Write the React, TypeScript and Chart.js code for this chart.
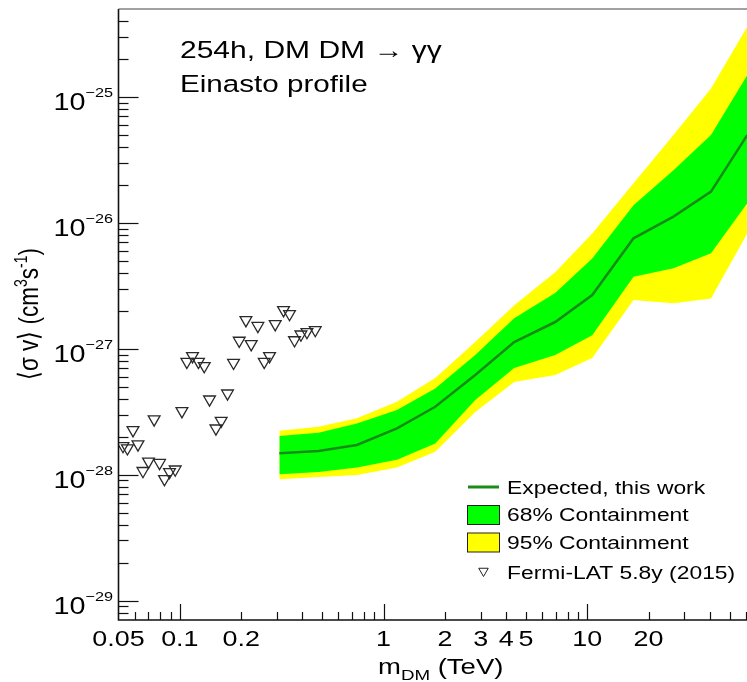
import React, { useEffect, useRef } from "react";
import { Chart, registerables } from "chart.js";

Chart.register(...registerables);

// ---------- data (TeV, cm^3 s^-1) ----------
const bandMass = [0.308, 0.48, 0.74, 1.164, 1.794, 2.82, 4.38, 6.96, 10.58, 16.87, 26.5, 40.5, 61.0];
const expectedLimit = [1.48e-28, 1.54e-28, 1.72e-28, 2.33e-28, 3.46e-28, 6.18e-28, 1.13e-27, 1.63e-27, 2.67e-27, 7.54e-27, 1.12e-26, 1.77e-26, 4.98e-26];
const band68Upper = [2.03e-28, 2.15e-28, 2.55e-28, 3.26e-28, 4.84e-28, 8.91e-28, 1.75e-27, 2.77e-27, 5.22e-27, 1.38e-26, 2.62e-26, 4.98e-26, 1.49e-25];
const band68Lower = [1.005e-28, 1.05e-28, 1.14e-28, 1.31e-28, 1.77e-28, 3.91e-28, 7.03e-28, 8.91e-28, 1.28e-27, 3.73e-27, 4.35e-27, 5.73e-27, 1.43e-26];
const band95Upper = [2.23e-28, 2.4e-28, 2.8e-28, 3.79e-28, 5.85e-28, 1.13e-27, 2.22e-27, 4.06e-27, 8.25e-27, 2.06e-26, 4.98e-26, 1.17e-25, 3.61e-25];
const band95Lower = [9.19e-29, 9.57e-29, 9.93e-29, 1.14e-28, 1.52e-28, 3.14e-28, 5.44e-28, 6.18e-28, 8.44e-28, 2.44e-27, 2.3e-27, 2.51e-27, 8.25e-27];

const fermiMass = [0.0526, 0.0553, 0.0589, 0.0623, 0.0659, 0.0702, 0.0748, 0.0795, 0.0841, 0.089, 0.0949, 0.1024, 0.1083, 0.1154, 0.1235, 0.1318, 0.1399, 0.1504, 0.1596, 0.1714, 0.1835, 0.1957, 0.2111, 0.2241, 0.2416, 0.2597, 0.2756, 0.2939, 0.3229, 0.3455, 0.3656, 0.393, 0.4207, 0.4622];
const fermiLimit = [1.69e-28, 1.62e-28, 2.26e-28, 1.74e-28, 1.07e-28, 1.27e-28, 2.75e-28, 1.24e-28, 9.23e-29, 1.05e-28, 1.1e-28, 3.2e-28, 7.88e-28, 8.75e-28, 7.88e-28, 7.29e-28, 3.96e-28, 2.33e-28, 2.68e-28, 4.42e-28, 7.74e-28, 1.16e-27, 1.69e-27, 1.09e-27, 1.52e-27, 7.88e-28, 8.75e-28, 1.57e-27, 2.03e-27, 1.89e-27, 1.17e-27, 1.3e-27, 1.36e-27, 1.41e-27];

// ---------- axes ----------
const xMin = 0.05;
const xMax = 70;
const yMin = 7e-30;
const yMax = 5e-25;
const xTickLabels = [0.05, 0.1, 0.2, 1, 2, 3, 4, 5, 10, 20];
const xDecades = [0.01, 0.1, 1, 10];
const yDecadeExponents = [-30, -29, -28, -27, -26, -25];
const yLabelExponents = [-29, -28, -27, -26, -25];
const minorSteps = [1, 2, 3, 4, 5, 6, 7, 8, 9];

const legendItems = ["Expected, this work", "68% Containment", "95% Containment", "Fermi-LAT 5.8y (2015)"];

const FONT = '"Liberation Sans", Arial, Helvetica, sans-serif';
const SX = 1.25;
const GREEN = "#00ff00";
const YELLOW = "#ffff00";
const LINE_GREEN = "rgb(24,140,24)";
const CANVAS_W = 770;
const CANVAS_H = 682;

type Seg = { t: string; size: number; dy?: number };

function drawRich(
  ctx: CanvasRenderingContext2D,
  segs: Seg[],
  x: number,
  y: number,
  align: "left" | "center" | "right",
  rotated = false
) {
  ctx.save();
  let total = 0;
  for (const s of segs) {
    ctx.font = `${s.size}px ${FONT}`;
    total += ctx.measureText(s.t).width;
  }
  ctx.translate(x, y);
  if (rotated) {
    ctx.rotate(-Math.PI / 2);
    ctx.scale(1, SX);
  } else {
    ctx.scale(SX, 1);
  }
  let cx = align === "left" ? 0 : align === "center" ? -total / 2 : -total;
  ctx.textAlign = "left";
  ctx.textBaseline = "alphabetic";
  ctx.fillStyle = "#000";
  for (const s of segs) {
    ctx.font = `${s.size}px ${FONT}`;
    ctx.fillText(s.t, cx, s.dy || 0);
    cx += ctx.measureText(s.t).width;
  }
  ctx.restore();
}

function downTriangle(ctx: CanvasRenderingContext2D, x: number, y: number, r: number) {
  ctx.beginPath();
  ctx.moveTo(x - r * 0.866, y - r * 0.5);
  ctx.lineTo(x + r * 0.866, y - r * 0.5);
  ctx.lineTo(x, y + r);
  ctx.closePath();
  ctx.stroke();
}

const framePlugin = {
  id: "rootFrame",
  afterDraw(chart: any) {
    const ctx: CanvasRenderingContext2D = chart.ctx;
    const xs = chart.scales.x;
    const ys = chart.scales.y;
    const { left, right, top, bottom } = chart.chartArea;
    ctx.save();

    // frame
    ctx.strokeStyle = "#111";
    ctx.lineWidth = 1.6;
    ctx.beginPath();
    ctx.moveTo(left, top);
    ctx.lineTo(left, bottom);
    ctx.lineTo(right, bottom);
    ctx.stroke();
    ctx.strokeStyle = "#444";
    ctx.lineWidth = 1.2;
    ctx.beginPath();
    ctx.moveTo(left, top);
    ctx.lineTo(right, top);
    ctx.stroke();

    // x ticks (inward)
    ctx.strokeStyle = "#111";
    ctx.lineWidth = 1.2;
    for (const d of xDecades) {
      for (const k of minorSteps) {
        const v = d * k;
        if (v <= xMin * 1.0001 || v > xMax) continue;
        const px = Math.round(xs.getPixelForValue(v)) + 0.5;
        const len = k === 1 ? 16 : 8;
        ctx.beginPath();
        ctx.moveTo(px, bottom);
        ctx.lineTo(px, bottom - len);
        ctx.stroke();
      }
    }
    // y ticks (inward)
    for (const e of yDecadeExponents) {
      for (const k of minorSteps) {
        const v = k * Math.pow(10, e);
        if (v <= yMin * 1.0001 || v > yMax) continue;
        const py = Math.round(ys.getPixelForValue(v)) + 0.5;
        const len = k === 1 ? 20 : 10;
        ctx.beginPath();
        ctx.moveTo(left, py);
        ctx.lineTo(left + len, py);
        ctx.stroke();
      }
    }

    // x tick labels
    for (const v of xTickLabels) {
      const px = xs.getPixelForValue(v);
      drawRich(ctx, [{ t: String(v), size: 21.5 }], px, 645.5, "center");
    }
    // y tick labels
    for (const e of yLabelExponents) {
      const py = ys.getPixelForValue(Math.pow(10, e));
      drawRich(
        ctx,
        [
          { t: "10", size: 23, dy: 13.5 },
          { t: "\u2212" + String(-e), size: 13, dy: 0 },
        ],
        113,
        py,
        "right"
      );
    }

    // axis titles
    drawRich(
      ctx,
      [
        { t: "m", size: 22 },
        { t: "DM", size: 15, dy: 6 },
        { t: " (TeV)", size: 22 },
      ],
      378,
      674,
      "left"
    );
    drawRich(
      ctx,
      [
        { t: "\u27E8\u03C3 v\u27E9 (cm", size: 22.5 },
        { t: "3", size: 14, dy: -9 },
        { t: "s", size: 22.5 },
        { t: "-1", size: 14, dy: -9 },
        { t: ")", size: 22.5 },
      ],
      38,
      314,
      "center",
      true
    );

    // annotations
    drawRich(ctx, [{ t: "254h, DM DM \u2192 \u03B3\u03B3", size: 24 }], 180, 58, "left");
    drawRich(ctx, [{ t: "Einasto profile", size: 23.7 }], 180, 92, "left");

    // legend
    const LF = 18.3;
    ctx.strokeStyle = LINE_GREEN;
    ctx.lineWidth = 3;
    ctx.beginPath();
    ctx.moveTo(468, 487);
    ctx.lineTo(499, 487);
    ctx.stroke();
    drawRich(ctx, [{ t: legendItems[0], size: LF }], 507, 493.5, "left");

    ctx.lineWidth = 1;
    ctx.strokeStyle = "#222";
    ctx.fillStyle = GREEN;
    ctx.fillRect(467.5, 505.5, 32, 19);
    ctx.strokeRect(467.5, 505.5, 32, 19);
    drawRich(ctx, [{ t: legendItems[1], size: LF }], 507, 521, "left");

    ctx.fillStyle = YELLOW;
    ctx.fillRect(467.5, 533, 32, 19);
    ctx.strokeRect(467.5, 533, 32, 19);
    drawRich(ctx, [{ t: legendItems[2], size: LF }], 507, 549, "left");

    ctx.strokeStyle = "#222";
    ctx.lineWidth = 1;
    downTriangle(ctx, 483.5, 571, 5.5);
    drawRich(ctx, [{ t: legendItems[3], size: LF }], 507, 578.5, "left");

    ctx.restore();
  },
};

function pts(xs: number[], ys: number[]) {
  return xs.map((x, i) => ({ x, y: ys[i] }));
}

export default function App() {
  const ref = useRef<HTMLCanvasElement | null>(null);

  useEffect(() => {
    if (!ref.current) return;
    const bandStyle = {
      borderWidth: 0,
      borderColor: "rgba(0,0,0,0)",
      pointRadius: 0,
      tension: 0,
    };
    const chart = new Chart(ref.current, {
      type: "line",
      data: {
        datasets: [
          {
            label: legendItems[0],
            data: pts(bandMass, expectedLimit),
            borderColor: LINE_GREEN,
            borderWidth: 2.6,
            pointRadius: 0,
            fill: false,
            tension: 0,
          },
          {
            label: legendItems[3],
            data: pts(fermiMass, fermiLimit),
            showLine: false,
            pointStyle: "triangle",
            rotation: 180,
            pointRadius: 6.8,
            pointBackgroundColor: "rgba(0,0,0,0)",
            pointBorderColor: "#2a2a2a",
            pointBorderWidth: 1.3,
            fill: false,
          },
          {
            label: legendItems[1],
            data: pts(bandMass, band68Upper),
            ...bandStyle,
            backgroundColor: GREEN,
            fill: 3,
          },
          {
            label: "68 lower",
            data: pts(bandMass, band68Lower),
            ...bandStyle,
            fill: false,
          },
          {
            label: legendItems[2],
            data: pts(bandMass, band95Upper),
            ...bandStyle,
            backgroundColor: YELLOW,
            fill: 5,
          },
          {
            label: "95 lower",
            data: pts(bandMass, band95Lower),
            ...bandStyle,
            fill: false,
          },
        ],
      } as any,
      options: {
        responsive: false,
        animation: false,
        devicePixelRatio: 1,
        layout: {
          padding: { left: 118.5, top: 9, right: CANVAS_W - 759.4, bottom: CANVAS_H - 620 },
        },
        plugins: {
          legend: { display: false },
          tooltip: { enabled: false },
        },
        scales: {
          x: { type: "logarithmic", min: xMin, max: xMax, display: false },
          y: { type: "logarithmic", min: yMin, max: yMax, display: false },
        },
      } as any,
      plugins: [framePlugin],
    });
    return () => chart.destroy();
  }, []);

  return (
    <div
      style={{
        position: "fixed",
        left: 0,
        top: 0,
        width: 747,
        height: 682,
        overflow: "hidden",
        background: "#fff",
      }}
    >
      <canvas ref={ref} width={CANVAS_W} height={CANVAS_H} style={{ display: "block", width: CANVAS_W, height: CANVAS_H }} />
    </div>
  );
}
